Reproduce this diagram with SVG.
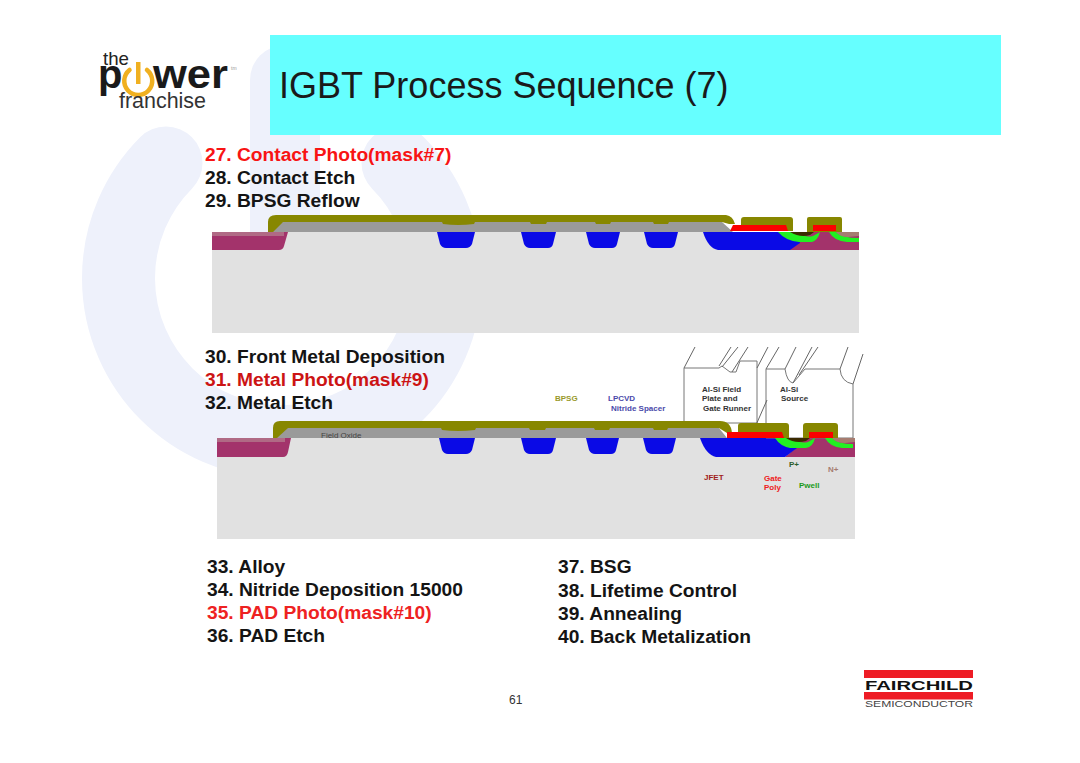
<svg xmlns="http://www.w3.org/2000/svg" width="1080" height="763" viewBox="0 0 1080 763">
<style>
text{font-family:"Liberation Sans",Arial,sans-serif}
.st{font-size:19.2px;font-weight:700;fill:#141414}
.sm{font-size:8px;font-weight:700}
.ol{fill:#878700}.gy{fill:#9a9a9a}.bl{fill:#0a0ae6}.ma{fill:#a3336b}.rd{fill:#fb0000}.gr{fill:#22f022}.su{fill:#e1e1e1}.dk{fill:#3b2a00}.tn{fill:#a67c70}.mt{fill:#fff;stroke:#777;stroke-width:1}.ln{fill:none;stroke:#666;stroke-width:1}
</style>
<rect width="1080" height="763" fill="#fff"/>
<g id="watermark" fill="none" stroke="#eef1fb" stroke-linecap="round">
<path d="M166 163A163.500 163.500 0 1 0 398 163" stroke-width="73"/>
<path d="M285 80V232" stroke-width="70" stroke-linecap="round"/>
</g>
<g id="title">
<rect x="270" y="35" width="731" height="100" fill="#66ffff"/>
<text x="279" y="98" font-size="36" fill="#1a1a1a">IGBT Process Sequence (7)</text>
</g>
<g id="logo">
<text x="103" y="65" font-size="19" fill="#222" textLength="26" lengthAdjust="spacingAndGlyphs">the</text>
<text x="98" y="88" font-size="40" font-weight="700" fill="#1a1a1a">p</text>
<path d="M129.500 70A14 14 0 1 0 147 70" fill="none" stroke="#f0b020" stroke-width="4.500" stroke-linecap="round"/>
<rect x="136" y="62" width="4.500" height="22" fill="#f0b020"/>
<text x="153" y="88" font-size="40" font-weight="700" fill="#1a1a1a" textLength="75" lengthAdjust="spacingAndGlyphs">wer</text>
<text x="231" y="70" font-size="5" fill="#999">tm</text>
<text x="119" y="108" font-size="22" fill="#333" textLength="87" lengthAdjust="spacingAndGlyphs">franchise</text>
</g>
<g id="steps-top">
<text class="st" style="fill:#f81414" x="205" y="161">27. Contact Photo(mask#7)</text>
<text class="st" x="205" y="184">28. Contact Etch</text>
<text class="st" x="205" y="207">29. BPSG Reflow</text>
</g>
<g id="section-top">
<rect class="su" x="212" y="232" width="647" height="101"/>
<path class="ma" d="M212 232H288L284 246Q283 250 279 250H212Z"/>
<rect x="212" y="232" width="72" height="4" fill="#b06a85"/>
<path class="bl" d="M437 232H475L472 244Q470 248 466 248H446Q442 248 440 244Z"/>
<path class="bl" d="M521 232H556L553 244Q552 248 548 248H530Q526 248 524 244Z"/>
<path class="bl" d="M586 232H620L617 244Q616 248 612 248H595Q591 248 589 244Z"/>
<path class="bl" d="M644 232H678L675 244Q674 248 670 248H653Q649 248 647 244Z"/>
<path class="ma" d="M788 250L799 243L802 232H859V250Z"/>
<path class="bl" d="M703 232H798L800 243L790 250H718Q708 248 703 232Z"/>
<path class="gy" d="M270 232L282 222H722L733 232Z"/>
<path class="ol" d="M268 232V222Q268 215 276 215H726Q733 216 735 224H729L722 222H283L273 232Z"/>
<path class="ol" d="M441 220H476L474 224Q458 226 443 224Z"/><path class="ol" d="M529 220H548L546 224H531Z"/><path class="ol" d="M594 220H612L610 224H596Z"/><path class="ol" d="M652 220H670L668 224H654Z"/>
<path class="ol" d="M741 220Q741 217 744 217H790Q793 217 793 220V231H741Z"/>
<path class="rd" d="M730 231L733 225H786L788 231Z"/>
<path class="ol" d="M807 219Q807 217 809 217H840Q842 217 842 219V232H807Z"/>
<rect class="rd" x="813" y="225" width="23" height="6"/>
<path class="gr" d="M778 232H799Q804 238 813 236L820 232Q818 240 812 242H799Q786 241 778 232Z"/>
<path class="dk" d="M790 232H814L810 235Q800 238 790 232Z"/>
<path class="gr" d="M829 232H836Q842 238 859 238V242H847Q834 241 829 232Z"/>
<path class="tn" d="M836 232H859V236L848 237Q840 237 836 232Z"/>
</g>
<g id="steps-middle">
<text class="st" x="205" y="363">30. Front Metal Deposition</text>
<text class="st" style="fill:#cc1414" x="205" y="386">31. Metal Photo(mask#9)</text>
<text class="st" x="205" y="409">32. Metal Etch</text>
</g>
<g id="section-bottom">
<rect class="su" x="217" y="438" width="638" height="101"/>
<path class="ma" d="M217 438H291L288 452Q287 457 283 457H217Z"/>
<rect x="217" y="438" width="68" height="4" fill="#b06a85"/>
<path class="bl" d="M439 438H475L472 450Q470 454 466 454H448Q444 454 442 450Z"/>
<path class="bl" d="M521 438H556L553 450Q552 454 548 454H530Q526 454 524 450Z"/>
<path class="bl" d="M586 438H619L616 450Q615 454 611 454H595Q591 454 589 450Z"/>
<path class="bl" d="M643 438H676L673 450Q672 454 668 454H652Q648 454 646 450Z"/>
<path class="ma" d="M785 457L796 448L800 438H855V457Z"/>
<path class="bl" d="M700 438H796L797 448L785 457H716Q706 455 700 438Z"/>
<g id="metal">
<path class="mt" d="M684 423V368H719L722 366L730 372H736L740 361H757V423Z"/>
<path class="mt" d="M766 438V369H785Q787 382 793 383L805 369H840Q841 382 853 384V438Z"/>
<path class="ln" d="M684 368L695 347M719 366L731 347M722 367L738 347M732 372L748 347M757 368L768 347M766 369L779 347M785 369L796 347M793 383L812 347M799 375L818 347M840 369L848 347M853 384L863 354M756 425L767 400"/>
</g>
<path class="gy" d="M275 438L287 428H719L727 438Z"/>
<path class="ol" d="M273 438V428Q273 421 280 421H720Q731 421 732 433H727L719 428H288L277 438Z"/>
<path class="ol" d="M440 426H477L475 430Q458 432 442 430Z"/><path class="ol" d="M528 426H547L545 430H530Z"/><path class="ol" d="M593 426H611L609 430H595Z"/><path class="ol" d="M652 426H669L667 430H654Z"/>
<path class="ol" d="M738 426Q738 423 741 423H786Q789 423 789 426V438H738Z"/>
<path class="rd" d="M727 438V432H782L784 438Z"/>
<path class="ol" d="M803 426Q803 423 806 423H835Q838 423 838 426V438H803Z"/>
<rect class="rd" x="809" y="432" width="24" height="6"/>
<path class="gr" d="M775 438H794Q799 444 808 442L815 438Q813 447 806 448H790Q780 446 775 438Z"/>
<path class="dk" d="M786 438H810L806 441Q795 444 786 438Z"/>
<path class="gr" d="M825 438H832Q838 444 853 444V448H842Q830 447 825 438Z"/>
<path class="tn" d="M832 438H855V442L845 443Q836 443 832 438Z"/>
<text class="sm" x="321" y="438" fill="#444" style="font-weight:400">Field Oxide</text>
<text class="sm" x="555" y="401" fill="#99992a">BPSG</text>
<text class="sm" x="608" y="401" fill="#4a4aaa">LPCVD</text>
<text class="sm" x="611" y="411" fill="#4a4aaa">Nitride Spacer</text>
<text class="sm" x="702" y="392" fill="#333">Al-Si  Field</text>
<text class="sm" x="702" y="401" fill="#333">Plate and</text>
<text class="sm" x="703" y="411" fill="#333">Gate Runner</text>
<text class="sm" x="780" y="392" fill="#333">Al-Si</text>
<text class="sm" x="781" y="401" fill="#333">Source</text>
<text class="sm" x="789" y="467" fill="#2d5d2d">P+</text>
<text class="sm" x="828" y="472" fill="#a67c70">N+</text>
<text class="sm" x="704" y="480" fill="#a02020">JFET</text>
<text class="sm" x="764" y="481" fill="#ee2020">Gate</text>
<text class="sm" x="764" y="490" fill="#ee2020">Poly</text>
<text class="sm" x="799" y="488" fill="#1c9a1c">Pwell</text>
</g>
<g id="steps-bottom">
<text class="st" x="207" y="573">33. Alloy</text>
<text class="st" x="207" y="596">34. Nitride Deposition 15000</text>
<text class="st" style="fill:#ee2222" x="207" y="619">35. PAD Photo(mask#10)</text>
<text class="st" x="207" y="642">36. PAD Etch</text>
<text class="st" x="558" y="573">37. BSG</text>
<text class="st" x="558" y="597">38. Lifetime Control</text>
<text class="st" x="558" y="620">39. Annealing</text>
<text class="st" x="558" y="643">40. Back Metalization</text>
</g>
<g id="page-number"><text x="509" y="704" font-size="12" fill="#333">61</text></g>
<g id="fairchild">
<rect x="864" y="670" width="109" height="8" fill="#ee1c25"/>
<rect x="864" y="692" width="109" height="7.500" fill="#ee1c25"/>
<text x="865" y="690" font-size="13" font-weight="700" fill="#111" textLength="108" lengthAdjust="spacingAndGlyphs">FAIRCHILD</text>
<text x="865" y="707" font-size="8.500" fill="#444" textLength="108" lengthAdjust="spacingAndGlyphs">SEMICONDUCTOR</text>
</g>
</svg>
